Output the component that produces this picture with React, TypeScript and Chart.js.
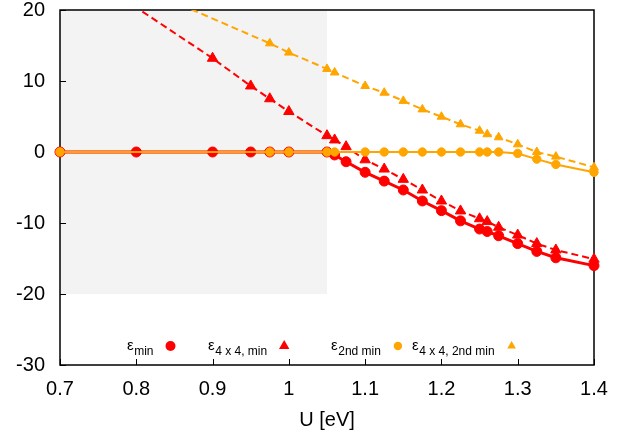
import React, { useEffect, useRef } from 'react';
import { Chart, registerables } from 'chart.js';

Chart.register(...registerables);

const FONT = "'Liberation Sans', Arial, Helvetica, sans-serif";
const RED = '#ff0000';
const ORANGE = '#ffa500';
const SHADE = '#f3f3f3';

// x-axis ticks
const X_TICKS = [0.7, 0.8, 0.9, 1.0, 1.1, 1.2, 1.3, 1.4];
const X_TICK_LABELS = ['0.7', '0.8', '0.9', '1', '1.1', '1.2', '1.3', '1.4'];
const Y_TICKS = [-30, -20, -10, 0, 10, 20];
const Y_TICK_LABELS = ['-30', '-20', '-10', '0', '10', '20'];
const X_TITLE = 'U [eV]';

// shaded region (U range and energy range)
const SHADE_U = [0.7, 1.05];
const SHADE_E = [-20, 20];

// ε_min (red circles, solid)
const U_MIN = [0.7, 0.8, 0.9, 0.95, 0.975, 1.0, 1.05, 1.06, 1.075, 1.1, 1.125, 1.15, 1.175, 1.2, 1.225, 1.25, 1.26, 1.275, 1.3, 1.325, 1.35, 1.4];
const E_MIN = [0, 0, 0, 0, 0, 0, 0, -0.42, -1.37, -2.86, -4.1, -5.35, -6.9, -8.26, -9.7, -10.85, -11.2, -11.8, -12.9, -14.0, -14.9, -16.0];

// ε_4x4,min (red triangles, dashed)
const U_4X4_MIN = [0.7, 0.9, 0.95, 0.975, 1.0, 1.05, 1.06, 1.075, 1.1, 1.125, 1.15, 1.175, 1.2, 1.225, 1.25, 1.26, 1.275, 1.3, 1.325, 1.35, 1.4];
const E_4X4_MIN = [27.5, 13.2, 9.3, 7.5, 5.7, 2.3, 1.7, 0.75, -1.1, -2.4, -3.85, -5.35, -6.9, -8.3, -9.4, -9.8, -10.6, -11.7, -12.9, -13.8, -15.1];

// ε_2nd min (orange circles, solid)
const U_2ND = [0.7, 0.975, 1.0, 1.05, 1.06, 1.1, 1.125, 1.15, 1.175, 1.2, 1.225, 1.25, 1.26, 1.275, 1.3, 1.325, 1.35, 1.4];
const E_2ND = [0, 0, 0, 0, 0, 0, 0, 0, 0, 0, 0, 0, 0, 0, -0.2, -1.0, -1.75, -2.85];

// ε_4x4,2nd min (orange triangles, dashed)
const U_4X4_2ND = [0.7, 0.975, 1.0, 1.05, 1.06, 1.1, 1.125, 1.15, 1.175, 1.2, 1.225, 1.25, 1.26, 1.275, 1.3, 1.325, 1.35, 1.4];
const E_4X4_2ND = [28.1, 15.3, 14.0, 11.7, 11.2, 9.3, 8.35, 7.2, 6.0, 4.97, 3.9, 3.0, 2.5, 2.07, 1.08, 0.0, -0.65, -2.15];

const LEGEND_SUBS = ['min', '4 x 4, min', '2nd min', '4 x 4, 2nd min'];

const pts = (xs: number[], ys: number[]) => xs.map((x, i) => ({ x, y: ys[i] }));

const CLIP = { left: 10, right: 10, top: 0, bottom: 0 };

const framePlugin = {
  id: 'frame',
  beforeDatasetsDraw(chart: any) {
    const { ctx, chartArea: a, scales } = chart;
    const xs = scales.x;
    const ys = scales.y;
    ctx.save();
    const x0 = xs.getPixelForValue(SHADE_U[0]);
    const x1 = xs.getPixelForValue(SHADE_U[1]);
    const y0 = ys.getPixelForValue(SHADE_E[1]);
    const y1 = ys.getPixelForValue(SHADE_E[0]);
    ctx.fillStyle = SHADE;
    ctx.fillRect(x0, y0, x1 - x0, y1 - y0);
    ctx.strokeStyle = '#000';
    ctx.lineWidth = 1.5;
    ctx.strokeRect(a.left, a.top, a.right - a.left, a.bottom - a.top);
    ctx.lineWidth = 1;
    ctx.beginPath();
    X_TICKS.forEach((v) => {
      const px = Math.round(xs.getPixelForValue(v)) + 0.5;
      ctx.moveTo(px, a.bottom);
      ctx.lineTo(px, a.bottom - 6);
    });
    Y_TICKS.forEach((v) => {
      const py = Math.round(ys.getPixelForValue(v)) + 0.5;
      ctx.moveTo(a.left, py);
      ctx.lineTo(a.left + 6, py);
    });
    ctx.stroke();
    ctx.restore();
  },
};

const legendPlugin = {
  id: 'customLegend',
  afterDatasetsDraw(chart: any) {
    const { ctx, chartArea: a } = chart;
    const markers = [
      { color: RED, style: 'circle', r: 5 },
      { color: RED, style: 'triangle', r: 6 },
      { color: ORANGE, style: 'circle', r: 4.2 },
      { color: ORANGE, style: 'triangle', r: 5 },
    ];
    ctx.save();
    const epsY = a.bottom - 15.5;
    const subY = a.bottom - 9.8;
    const markY = a.bottom - 19;
    LEGEND_SUBS.forEach((sub, i) => {
      const end = a.left + 93.5 + i * 113.7;
      ctx.fillStyle = '#000';
      ctx.textBaseline = 'alphabetic';
      ctx.textAlign = 'right';
      ctx.font = `12px ${FONT}`;
      const sw = ctx.measureText(sub).width;
      ctx.fillText(sub, end, subY);
      ctx.font = `15px ${FONT}`;
      ctx.fillText('ε', end - sw - 0.5, epsY);
      const m = markers[i];
      const mx = end + 17;
      ctx.fillStyle = m.color;
      ctx.beginPath();
      if (m.style === 'circle') {
        ctx.arc(mx, markY, m.r, 0, Math.PI * 2);
      } else {
        ctx.moveTo(mx, markY - m.r);
        ctx.lineTo(mx + m.r * 0.866, markY + m.r * 0.5);
        ctx.lineTo(mx - m.r * 0.866, markY + m.r * 0.5);
        ctx.closePath();
      }
      ctx.fill();
    });
    ctx.restore();
  },
};

export default function App() {
  const ref = useRef<HTMLCanvasElement | null>(null);

  useEffect(() => {
    if (!ref.current) return;
    Chart.defaults.font.family = FONT;
    const chart = new Chart(ref.current, {
      type: 'line',
      data: {
        datasets: [
          {
            label: 'ε4x4,2nd min',
            data: pts(U_4X4_2ND, E_4X4_2ND),
            borderColor: ORANGE,
            backgroundColor: ORANGE,
            borderWidth: 2,
            borderDash: [7, 4],
            pointStyle: 'triangle',
            pointRadius: 5,
            pointBorderWidth: 1,
            pointBackgroundColor: ORANGE,
            pointBorderColor: ORANGE,
            order: 0,
            clip: CLIP,
          },
          {
            label: 'ε2nd min',
            data: pts(U_2ND, E_2ND),
            borderColor: ORANGE,
            backgroundColor: ORANGE,
            borderWidth: 2,
            pointStyle: 'circle',
            pointRadius: 4.2,
            pointBorderWidth: 1,
            pointBackgroundColor: ORANGE,
            pointBorderColor: ORANGE,
            order: 1,
            clip: CLIP,
          },
          {
            label: 'ε4x4,min',
            data: pts(U_4X4_MIN, E_4X4_MIN),
            borderColor: RED,
            backgroundColor: RED,
            borderWidth: 2,
            borderDash: [7, 4],
            pointStyle: 'triangle',
            pointRadius: 6,
            pointBorderWidth: 1,
            pointBackgroundColor: RED,
            pointBorderColor: RED,
            order: 2,
            clip: CLIP,
          },
          {
            label: 'εmin',
            data: pts(U_MIN, E_MIN),
            borderColor: RED,
            backgroundColor: RED,
            borderWidth: 3,
            pointStyle: 'circle',
            pointRadius: 5,
            pointBorderWidth: 1,
            pointBackgroundColor: RED,
            pointBorderColor: RED,
            order: 3,
            clip: CLIP,
          },
        ],
      },
      options: {
        animation: false,
        responsive: false,
        devicePixelRatio: 1,
        parsing: false as any,
        layout: { padding: { left: 0, top: 10, right: 48, bottom: 0 } },
        plugins: {
          legend: { display: false },
          tooltip: { enabled: false },
        },
        elements: { line: { tension: 0 } },
        scales: {
          x: {
            type: 'linear',
            min: 0.7,
            max: 1.4,
            grid: { display: false, drawTicks: false },
            border: { display: false },
            afterBuildTicks: (axis: any) => {
              axis.ticks = X_TICKS.map((v) => ({ value: v }));
            },
            afterFit: (axis: any) => {
              axis.height = 75;
              axis.paddingLeft = 0;
              axis.paddingRight = 0;
            },
            ticks: {
              autoSkip: false,
              maxRotation: 0,
              padding: 12,
              color: '#000',
              font: { size: 20, family: FONT },
              callback: (_v: any, i: number) => X_TICK_LABELS[i],
            },
            title: {
              display: true,
              text: X_TITLE,
              color: '#000',
              font: { size: 20, family: FONT },
              padding: { top: 0, bottom: 8 },
            },
          },
          y: {
            type: 'linear',
            min: -30,
            max: 20,
            grid: { display: false, drawTicks: false },
            border: { display: false },
            afterBuildTicks: (axis: any) => {
              axis.ticks = Y_TICKS.map((v) => ({ value: v }));
            },
            afterFit: (axis: any) => {
              axis.width = 60;
              axis.paddingTop = 0;
              axis.paddingBottom = 0;
            },
            ticks: {
              autoSkip: false,
              padding: 15,
              color: '#000',
              font: { size: 20, family: FONT },
              callback: (_v: any, i: number) => Y_TICK_LABELS[i],
            },
          },
        },
      },
      plugins: [framePlugin, legendPlugin],
    } as any);
    return () => chart.destroy();
  }, []);

  return (
    <div style={{ position: 'fixed', left: 0, top: 0, width: 642, height: 440, background: '#fff' }}>
      <canvas ref={ref} width={642} height={440} style={{ display: 'block' }} />
    </div>
  );
}
